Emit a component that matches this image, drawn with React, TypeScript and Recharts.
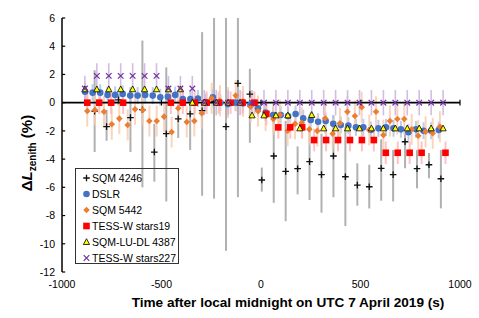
import React from 'react';
import { ScatterChart, Scatter, XAxis, YAxis, ErrorBar, ReferenceLine } from 'recharts';

const X_TICKS = [-1000, -500, 0, 500, 1000];
const Y_TICKS = [-12, -10, -8, -6, -4, -2, 0, 2, 4, 6];

// SQM 4246 (black +, grey asymmetric error bars: lower / upper ends)
const SQM4246_T = [-836, -776, -716, -656, -596, -536, -476, -416, -356, -296, -236, -176, -116, -56, 4, 64, 124, 184, 244, 304, 364, 424, 484, 544, 604, 664, 724, 784, 844, 904];
const SQM4246_V = [-0.6, -1.7, 0.2, -1.06, -0.5, -3.5, -2.2, -1.15, -0.8, -0.57, 0.1, -1.7, 1.37, 0.6, -5.48, -3.78, -4.87, -4.68, -4.18, -5.1, -3.78, -5.25, -5.84, -5.96, -4.65, -5.1, -2.77, -4.68, -4.4, -5.39];
const SQM4246_LO = [-3.5, -2.7, -0.2, -3.5, -6.0, -5.6, -7.0, -2.5, -3.35, -6.6, -6.8, -10.5, -6.7, -2.85, -6.3, -7.1, -8.4, -6.5, -6.9, -7.8, -6.7, -8.75, -7.3, -7.5, -6.95, -7.0, -4.65, -6.07, -5.36, -7.49];
const SQM4246_HI = [2.3, -0.5, 0.6, 0.9, 4.4, -1.5, 2.5, 0.2, 0, 5.0, 6, 6, 6, 2.4, -4.6, -1.2, -1.3, -3.1, -1.9, -2.2, -0.9, -1.7, -4.3, -4.4, -2.6, -3.35, -2.05, -3.35, -3.57, -3.35];

// DSLR (blue circles)
const DSLR_T = [-884, -846, -808, -771, -733, -695, -657, -620, -582, -544, -506, -468, -431, -393, -355, -317, -279, -242, -204, -166, -128, -90, -53, -15, 23, 61, 99, 136, 174, 212, 250, 287, 325, 363, 401, 439, 477, 514, 552, 590, 628, 666, 703, 741, 779, 817, 855, 893];
const DSLR_V = [0.78, 0.71, 0.71, 0.55, 0.55, 0.62, 0.5, 0.5, 0.55, 0.5, 0.38, 0.42, 0.55, 0.26, 0.26, 0.3, 0.05, 0.38, 0.0, -0.1, 0.0, -0.05, -0.16, -0.4, -0.7, -0.87, -0.87, -0.94, -0.8, -1.1, -1.23, -1.35, -1.3, -1.5, -1.58, -1.63, -1.75, -1.75, -1.94, -1.82, -1.75, -1.82, -1.89, -2.1, -1.89, -1.99, -1.99, -1.94];
const DSLR_ERR = 0.6;

// SQM 5442 (orange diamonds)
const SQM5442_T = [-873, -834, -789, -750, -712, -670, -633, -594, -561, -524, -487, -449, -416, -373, -335, -298, -248, -206, -166, -127, -90, -52, -15, 23, 62, 95, 134, 171, 205, 243, 283, 322, 360, 397, 434, 472, 506, 544, 578, 615, 648, 685, 720, 757, 790, 827, 863, 899];
const SQM5442_V = [-0.59, -0.52, -0.64, -1.53, -1.13, -1.58, -0.47, -0.52, -1.3, -1.3, -0.99, -2.08, -0.4, -1.37, -1.3, -0.75, 0.31, 0.14, 0.0, 0.5, 0.1, -0.28, -0.6, -0.9, -1.16, -0.87, -1.99, -1.5, -1.42, -1.89, -2.0, -1.1, -2.2, -1.46, -0.64, -0.94, -0.33, -1.94, -0.64, -2.3, -1.3, -1.16, -1.16, -1.89, -2.34, -2.06, -2.17, -1.7];
const SQM5442_ERR = 1.1;

// TESS-W stars19 (red squares)
const TESS19_T = [-873, -813, -753, -693, -453, -393, -333, -273, -213, -153, -93, -33, 27, 87, 147, 207, 267, 327, 387, 447, 507, 567, 627, 687, 747, 807, 927];
const TESS19_V = [0, 0, 0, 0, 0, 0, 0, 0, 0, 0, 0, 0, -0.8, -1.75, -1.75, -1.75, -2.65, -2.65, -2.65, -2.65, -2.65, -2.65, -3.55, -3.55, -3.55, -3.55, -3.55];
const TESS19_ERR = 0.8;

// SQM-LU-DL 4387 (yellow triangles) and TESS-W stars227 (purple x) share times
const MIN_T = [-885, -825, -765, -705, -645, -585, -525, -465, -405, -345, -285, -225, -165, -105, -45, 15, 75, 135, 195, 255, 315, 375, 435, 495, 555, 615, 675, 735, 795, 855, 915];
const SQMLU_V = [0.95, 0.95, 0.95, 0.95, 0.95, 0.95, 0.95, 0.95, 0.95, 0, 0, 0, 0, 0, -0.9, -0.9, -0.9, -0.9, -1.82, -0.87, -1.82, -1.82, -1.82, -1.82, -1.82, -1.82, -1.82, -1.82, -1.82, -1.82, -1.82];
const TESS227_V = [1.0, 1.9, 1.9, 1.9, 1.9, 1.9, 1.9, 1.0, 1.0, 1.0, 0, 0, 0, 0, 0, 0, 0, 0, 0, 0, 0, 0, 0, 0, 0, 0, 0, 0, 0, 0, 0];
const TESS227_ERR = 0.9;

const sqm4246Data = SQM4246_T.map((x, i) => ({ x, y: SQM4246_V[i], e: [SQM4246_V[i] - SQM4246_LO[i], SQM4246_HI[i] - SQM4246_V[i]] }));
const dslrData = DSLR_T.map((x, i) => ({ x, y: DSLR_V[i], e: DSLR_ERR }));
const sqm5442Data = SQM5442_T.map((x, i) => ({ x, y: SQM5442_V[i], e: SQM5442_ERR }));
const tess19Data = TESS19_T.map((x, i) => ({ x, y: TESS19_V[i], e: TESS19_ERR }));
const sqmluData = MIN_T.map((x, i) => ({ x, y: SQMLU_V[i] }));
const tess227Data = MIN_T.map((x, i) => ({ x, y: TESS227_V[i], e: TESS227_ERR }));

const Plus = (p: any) => (
  <path d={`M${p.cx - 3.3},${p.cy}H${p.cx + 3.3}M${p.cx},${p.cy - 3.3}V${p.cy + 3.3}`} stroke="#111" strokeWidth={1.3} fill="none" />
);
const Dot = (p: any) => <circle cx={p.cx} cy={p.cy} r={3.3} fill="#4472C4" />;
const Diamond = (p: any) => (
  <path d={`M${p.cx},${p.cy - 3.3}L${p.cx + 3.3},${p.cy}L${p.cx},${p.cy + 3.3}L${p.cx - 3.3},${p.cy}Z`} fill="#ED7D31" />
);
const Square = (p: any) => <rect x={p.cx - 3.3} y={p.cy - 3.3} width={6.6} height={6.6} fill="#FF0000" />;
const Tri = (p: any) => (
  <path d={`M${p.cx},${p.cy - 3.3}L${p.cx + 3.1},${p.cy + 2.5}L${p.cx - 3.1},${p.cy + 2.5}Z`} fill="#FFFF00" stroke="#000" strokeWidth={0.8} />
);
const Cross = (p: any) => (
  <path d={`M${p.cx - 2.8},${p.cy - 2.8}L${p.cx + 2.8},${p.cy + 2.8}M${p.cx + 2.8},${p.cy - 2.8}L${p.cx - 2.8},${p.cy + 2.8}`} stroke="#7030A0" strokeWidth={1.2} fill="none" />
);

const LEGEND = [
  { name: 'SQM 4246', Shape: Plus },
  { name: 'DSLR', Shape: Dot },
  { name: 'SQM 5442', Shape: Diamond },
  { name: 'TESS-W stars19', Shape: Square },
  { name: 'SQM-LU-DL 4387', Shape: Tri },
  { name: 'TESS-W stars227', Shape: Cross },
];

const W = 479;
const H = 318;

export default function App() {
  return (
    <div style={{ position: 'absolute', left: 0, top: 0, width: W, height: H, background: '#fff', fontFamily: '"Liberation Sans", Arial, sans-serif', color: '#000' }}>
      <ScatterChart width={W} height={H} margin={{ top: 18, right: 19, bottom: 16, left: 22 }}>
        <XAxis type="number" dataKey="x" domain={[-1000, 1000]} ticks={X_TICKS} interval={0} axisLine={false} tickLine={false} tickSize={0} tickMargin={9} height={30} tick={{ fontSize: 10.5, fill: '#000' }} />
        <YAxis type="number" dataKey="y" domain={[-12, 6]} ticks={Y_TICKS} interval={0} width={40} axisLine={{ stroke: '#000', strokeWidth: 1.5 }} tickLine={false} tickSize={0} tickMargin={7} tick={{ fontSize: 10.5, fill: '#000' }} />
        {Y_TICKS.map((t) => (
          <ReferenceLine key={'yt' + t} segment={[{ x: -1000, y: t }, { x: -984, y: t }]} stroke="#000" strokeWidth={1.2} />
        ))}
        <Scatter data={sqm4246Data} shape={Plus} isAnimationActive={false}>
          <ErrorBar dataKey="e" direction="y" width={0} stroke="#A3A3A3" strokeWidth={2} strokeOpacity={0.85} />
        </Scatter>
        <Scatter data={dslrData} shape={Dot} isAnimationActive={false}>
          <ErrorBar dataKey="e" direction="y" width={0} stroke="#A9C1E8" strokeWidth={2} strokeOpacity={0.8} />
        </Scatter>
        <Scatter data={sqm5442Data} shape={Diamond} isAnimationActive={false}>
          <ErrorBar dataKey="e" direction="y" width={0} stroke="#F8CBAD" strokeWidth={2} strokeOpacity={0.8} />
        </Scatter>
        <Scatter data={tess19Data} shape={Square} isAnimationActive={false}>
          <ErrorBar dataKey="e" direction="y" width={0} stroke="#FFB3B3" strokeWidth={2} strokeOpacity={0.8} />
        </Scatter>
        <Scatter data={sqmluData} shape={Tri} isAnimationActive={false} />
        <Scatter data={tess227Data} shape={Cross} isAnimationActive={false}>
          <ErrorBar dataKey="e" direction="y" width={0} stroke="#CDB6E0" strokeWidth={1.6} strokeOpacity={0.9} />
        </Scatter>
        <ReferenceLine y={0} stroke="#000" strokeWidth={1.8} />
        {X_TICKS.slice(1).map((t) => (
          <ReferenceLine key={'xt' + t} segment={[{ x: t, y: -0.2 }, { x: t, y: 0.2 }]} stroke="#000" strokeWidth={1.2} />
        ))}
      </ScatterChart>

      <div style={{ position: 'absolute', left: -33, top: 142, width: 120, height: 22, lineHeight: '22px', textAlign: 'center', transform: 'rotate(-90deg)', transformOrigin: '50% 50%', fontWeight: 700, fontSize: 15, whiteSpace: 'nowrap' }}>
        Δ<i>L</i><sub style={{ fontSize: 10, lineHeight: 0 }}>zenith</sub> (%)
      </div>

      <div style={{ position: 'absolute', left: 88, top: 293, width: 400, height: 20, lineHeight: '20px', textAlign: 'center', fontWeight: 700, fontSize: 13.6, whiteSpace: 'nowrap' }}>
        Time after local midnight on UTC 7 April 2019 (s)
      </div>

      <div style={{ position: 'absolute', left: 75, top: 168, width: 104, height: 96, border: '1px solid #333', boxSizing: 'border-box' }}>
        {LEGEND.map((it, i) => (
          <div key={it.name} style={{ position: 'absolute', left: 0, top: 1 + 16 * i, height: 16, display: 'flex', alignItems: 'center', fontSize: 10.5, whiteSpace: 'nowrap' }}>
            <svg width={16} height={16} style={{ display: 'block' }}>
              <it.Shape cx={10.5} cy={8} />
            </svg>
            <span>{it.name}</span>
          </div>
        ))}
      </div>
    </div>
  );
}
